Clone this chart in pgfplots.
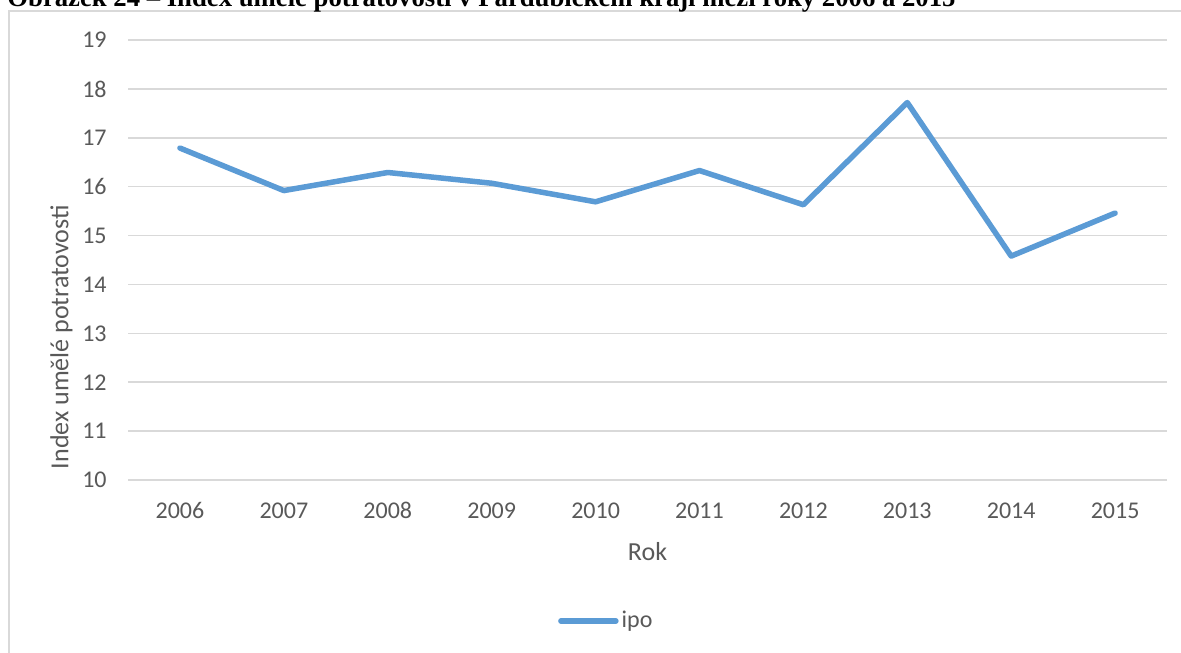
\documentclass[border=0pt]{standalone}
\usepackage{fontspec}
\setmainfont{Carlito}
\newfontfamily\titlefont{Liberation Serif}
\usepackage{pgfplots}
\pgfplotsset{compat=1.18}
\definecolor{ser}{HTML}{5B9BD5}
\definecolor{grd}{HTML}{D9D9D9}
\definecolor{txt}{HTML}{595959}
\pgfplotstableread{
x y
0 16.79
1 15.92
2 16.29
3 16.07
4 15.69
5 16.33
6 15.63
7 17.72
8 14.58
9 15.46
}\ipodata
\begin{document}
\begin{tikzpicture}[x=0.5bp,y=0.5bp]
\path[use as bounding box] (0,0) rectangle (1181,652);
\clip (0,0) rectangle (1181,652);
\fill[white] (0,0) rectangle (1181,652);
\draw[grd, line width=1bp] (8.5,-50) -- (8.5,641) -- (1200,641);
\node[anchor=base west, inner sep=0pt, font=\titlefont\bfseries\fontsize{13.35bp}{15bp}\selectfont] at (7,645) {Obrázek 24 – Index umělé potratovosti v Pardubickém kraji mezi roky 2006 a 2015};
\begin{axis}[at={(64bp,86bp)}, anchor=south west, width=519.5bp, height=220bp, scale only axis,
 xmin=-0.5, xmax=9.5, ymin=10, ymax=19, ytick={10,...,19}, xtick={0,...,9},
 xticklabels={2006,2007,2008,2009,2010,2011,2012,2013,2014,2015},
 axis line style={draw=none}, major tick length=0pt, ymajorgrids, xmajorgrids=false,
 grid style={grd, line width=0.8bp},
 ticklabel style={font=\fontsize{12bp}{14bp}\selectfont, text=txt},
 /pgf/number format/assume math mode=true,
 yticklabel style={anchor=east, inner sep=0pt, xshift=-10.5bp},
 xticklabel style={anchor=base, inner sep=0pt, yshift=-19.2bp},
 xlabel={Rok}, ylabel={Index umělé potratovosti},
 label style={font=\fontsize{13bp}{15bp}\selectfont, text=txt},
 xlabel style={at={(axis description cs:0.5,-0.1409)}, anchor=north, inner sep=0pt},
 ylabel style={at={(axis description cs:-0.0640,0.325)}, anchor=center, inner sep=0pt},
 legend style={draw=none, fill=none, at={(axis description cs:0.4136,-0.3205)}, anchor=west,
   inner sep=0pt, nodes={inner sep=0pt, font=\fontsize{12bp}{14bp}\selectfont, text=txt}},
 legend image code/.code={\draw[#1, line cap=round] (0bp,0bp) -- (27.5bp,0bp);},
 clip=false
]
\addplot[ser, line width=2.75bp, line join=round, line cap=round] table[x=x,y=y] {\ipodata};
\addlegendentry{\hspace{1.5bp}ipo}
\end{axis}
\end{tikzpicture}
\end{document}
